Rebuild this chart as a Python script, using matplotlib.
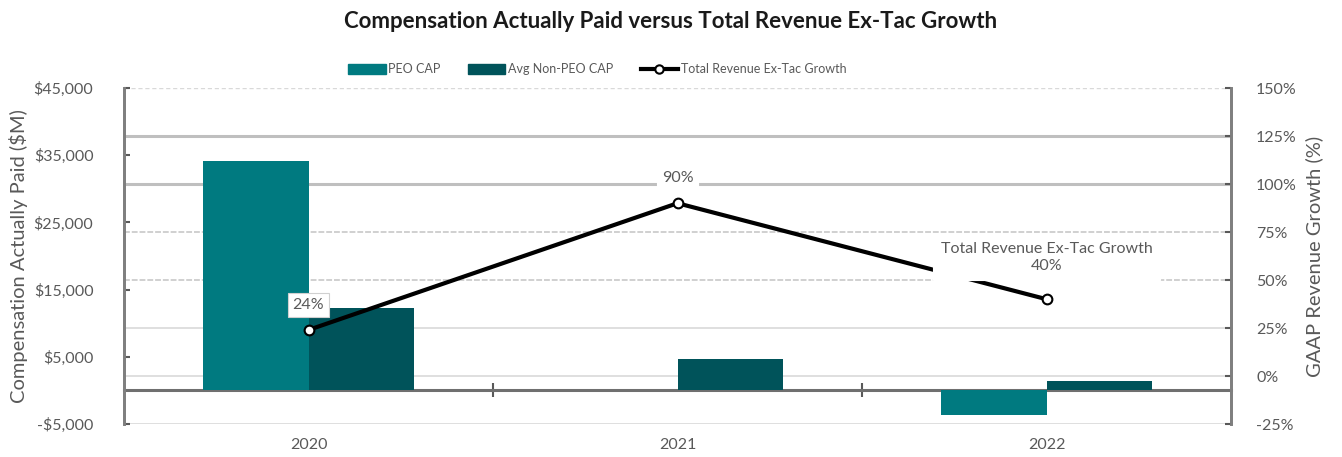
import matplotlib.pyplot as plt
import numpy as np
from matplotlib.patches import Patch
from matplotlib.lines import Line2D
from matplotlib.transforms import blended_transform_factory

plt.rcParams['font.family'] = ['Lato', 'DejaVu Sans']

years = ['2020', '2021', '2022']
peo_cap = [34100, 0, -3650]
non_peo_cap = [12300, 4700, 1400]
growth = [24, 90, 40]
growth_labels = ['24%', '90%', 'Total Revenue Ex-Tac Growth\n40%']
left_ticks = [-5000, 5000, 15000, 25000, 35000, 45000]
right_ticks = [-25, 0, 25, 50, 75, 100, 125, 150]

teal = '#007A80'
dark_teal = '#00535A'
grey_txt = '#595959'

fig = plt.figure(figsize=(13.42, 4.57), dpi=100)
ax = fig.add_axes([0.0924, 0.0722, 0.8249, 0.7352])
ax2 = ax.twinx()

x = np.arange(len(years))
w = 0.286
ax.set_xlim(-0.5, 2.5)
ax.set_ylim(-5000, 45000)
ax2.set_ylim(-25, 150)

# gridlines follow the right-hand axis
trans = blended_transform_factory(ax.transAxes, ax2.transData)
grid_style = {
    150: ('#d9d9d9', 1.0, (0, (3, 2))),
    125: ('#bfbfbf', 2.2, '-'),
    100: ('#bfbfbf', 2.2, '-'),
    75: ('#d0d0d0', 1.4, (0, (3, 1))),
    50: ('#d0d0d0', 1.4, (0, (3, 1))),
    25: ('#d9d9d9', 1.2, '-'),
    0: ('#d9d9d9', 1.2, '-'),
    -25: ('#d9d9d9', 1.2, '-'),
}
for p in right_ticks:
    c, lw, ls = grid_style[p]
    ax.plot([0, 1], [p, p], transform=trans, color=c, lw=lw, ls=ls, zorder=0.5)

ax.bar(x - w / 2, peo_cap, w, color=teal, zorder=2)
ax.bar(x + w / 2, non_peo_cap, w, color=dark_teal, zorder=2)

# zero line with category separators
zero_ax = ax.secondary_xaxis(0.1)
zero_ax.set_xticks([0.5, 1.5])
zero_ax.set_xticklabels(['', ''])
zero_ax.tick_params(direction='inout', length=10, width=1.5, color='#595959')
zero_ax.spines['bottom'].set_color('#6f6f6f')
zero_ax.spines['bottom'].set_linewidth(2.2)

ax2.plot(x, growth, color='black', lw=3, marker='o', ms=7,
         mfc='white', mec='black', mew=1.5, zorder=3)

ax2.annotate(growth_labels[0], (x[0], growth[0]), xytext=(0, 18),
             textcoords='offset points', ha='center', va='center',
             fontsize=11.5, color=grey_txt, zorder=5,
             bbox=dict(boxstyle='square,pad=0.3', fc='white', ec='#d0d0d0', lw=0.8))
ax2.annotate(growth_labels[1], (x[1], growth[1]), xytext=(0, 18),
             textcoords='offset points', ha='center', va='center',
             fontsize=11.5, color=grey_txt, zorder=5,
             bbox=dict(boxstyle='square,pad=0.3', fc='white', ec='white', lw=0.8))
ax2.annotate(growth_labels[2], (x[2], growth[2]), xytext=(0, 30),
             textcoords='offset points', ha='center', va='center',
             fontsize=11.5, color=grey_txt, zorder=5, linespacing=1.3,
             bbox=dict(boxstyle='square,pad=0.45', fc='white', ec='white', lw=0.8))

ax.set_xticks(x)
ax.set_xticklabels(years)
ax.tick_params(axis='x', length=0, pad=10, labelsize=11.5, labelcolor=grey_txt)
ax.set_yticks(left_ticks)
ax.set_yticklabels(['-$5,000' if v < 0 else f'${v:,}' for v in left_ticks])
ax.tick_params(axis='y', direction='in', length=4, width=1.5, color='#595959',
               labelsize=11.5, labelcolor=grey_txt, pad=22)
ax2.set_yticks(right_ticks)
ax2.set_yticklabels([f'{v}%' for v in right_ticks])
ax2.tick_params(axis='y', direction='in', length=4, width=1.5, color='#595959',
                labelsize=11.5, labelcolor=grey_txt, pad=18)

for a in (ax, ax2):
    a.spines['top'].set_visible(False)
    a.spines['bottom'].set_visible(False)
    a.spines['left'].set_color('#7f7f7f')
    a.spines['left'].set_linewidth(2)
    a.spines['right'].set_color('#7f7f7f')
    a.spines['right'].set_linewidth(2)

ax.set_ylabel('Compensation Actually Paid ($M)', fontsize=14.5, color=grey_txt, labelpad=4)
ax2.set_ylabel('GAAP Revenue Growth (%)', fontsize=14.5, color=grey_txt, labelpad=6)

fig.suptitle('Compensation Actually Paid versus Total Revenue Ex-Tac Growth',
             fontsize=16, fontweight='bold', color='#1a1a1a', y=0.975)

handles = [Patch(color=teal), Patch(color=dark_teal),
           Line2D([], [], color='black', lw=3, marker='o', ms=6,
                  mfc='white', mec='black', mew=1.5)]
fig.legend(handles, ['PEO CAP', 'Avg Non-PEO CAP', 'Total Revenue Ex-Tac Growth'],
           loc='center', bbox_to_anchor=(0.445, 0.848), ncol=3, frameon=False,
           fontsize=9, labelcolor=grey_txt, handlelength=3.0, handleheight=0.8,
           handletextpad=0.2, columnspacing=2.2)

fig.savefig('out.png', dpi=100)
